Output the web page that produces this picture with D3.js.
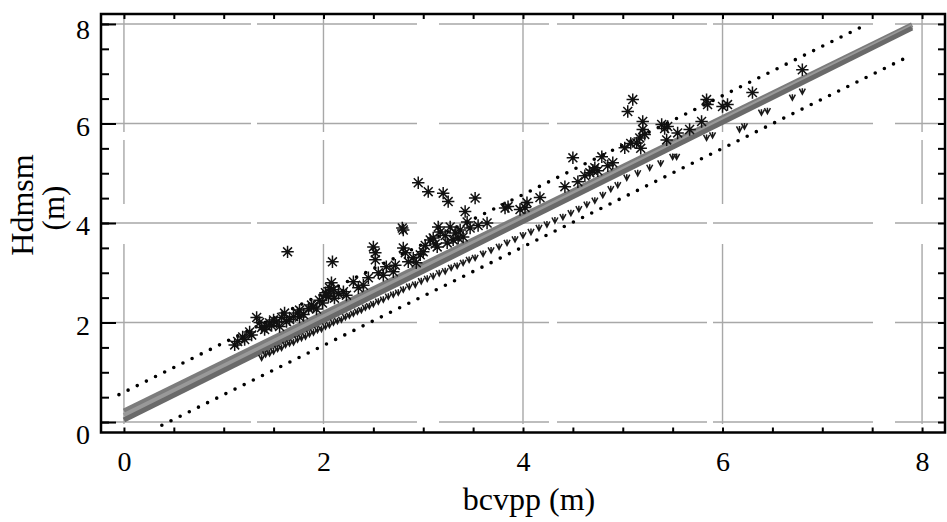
<!DOCTYPE html>
<html>
<head>
<meta charset="utf-8">
<script src="https://cdn.jsdelivr.net/npm/d3@7"></script>
<style>
    html, body { margin: 0; padding: 0; background: #fff; }
    svg text { font-family: "Liberation Serif", "Times New Roman", serif; fill: #000; }
</style>
</head>
<body>
<svg id="chart" width="947" height="522"></svg>
<script>
// Data
const xTicks = [0, 2, 4, 6, 8];
const yTicks = [0, 2, 4, 6, 8];
const minorTicks = d3.range(0, 8.01, 0.5);

// asterisks (observations above the fit)
const starPoints = [
    [1.11, 1.55], [1.14, 1.62], [1.19, 1.71], [1.21, 1.66], [1.26, 1.81], [1.28, 1.75], [1.33, 2.1], [1.36, 2.0],
    [1.38, 1.9], [1.41, 1.86], [1.43, 1.92], [1.46, 1.99], [1.48, 1.94], [1.5, 2.05], [1.53, 2.01], [1.56, 1.92],
    [1.58, 2.1], [1.61, 2.19], [1.63, 2.02], [1.64, 3.42], [1.66, 2.06], [1.7, 2.12], [1.74, 2.19], [1.76, 2.11],
    [1.76, 2.25], [1.8, 2.16], [1.85, 2.28], [1.88, 2.35], [1.9, 2.31], [1.93, 2.27], [1.96, 2.45], [1.99, 2.39],
    [2.02, 2.6], [2.03, 2.55], [2.05, 2.52], [2.06, 2.7], [2.08, 2.8], [2.09, 3.22], [2.1, 2.66], [2.11, 2.49],
    [2.15, 2.58], [2.2, 2.62], [2.23, 2.55], [2.3, 2.82], [2.35, 2.7], [2.4, 2.75], [2.45, 2.9], [2.5, 3.52],
    [2.52, 3.4], [2.52, 3.26], [2.55, 3.0], [2.6, 2.95], [2.63, 3.12], [2.7, 3.02], [2.72, 3.15],
    [2.79, 3.9], [2.8, 3.86], [2.8, 3.5], [2.82, 3.4], [2.85, 3.22], [2.9, 3.3], [2.93, 3.2], [2.95, 4.81],
    [2.97, 3.36], [3.0, 3.42], [3.02, 3.55], [3.05, 4.63], [3.07, 3.66], [3.1, 3.7], [3.12, 3.58], [3.14, 3.52],
    [3.15, 3.92], [3.17, 3.82], [3.2, 4.6], [3.22, 3.75], [3.24, 3.6], [3.25, 4.43], [3.27, 3.92], [3.3, 3.66],
    [3.32, 3.8], [3.35, 3.7], [3.37, 3.86], [3.4, 3.72], [3.42, 4.23], [3.44, 4.02], [3.47, 3.9], [3.52, 4.5],
    [3.55, 3.95], [3.64, 4.0], [3.82, 4.3], [3.85, 4.33], [3.97, 4.27], [4.02, 4.31], [4.04, 4.41], [4.17, 4.51],
    [4.42, 4.73], [4.5, 5.31], [4.55, 4.83], [4.62, 4.95], [4.67, 5.01], [4.7, 5.06], [4.72, 5.11], [4.75, 5.05],
    [4.79, 5.33], [4.85, 5.15], [4.9, 5.21], [5.02, 5.51], [5.05, 6.24], [5.08, 5.6], [5.1, 6.48], [5.14, 5.61],
    [5.17, 5.71], [5.18, 5.5], [5.2, 6.04], [5.2, 5.88], [5.22, 5.78], [5.39, 5.98], [5.42, 5.9], [5.45, 5.94],
    [5.44, 5.67], [5.55, 5.81], [5.67, 5.88], [5.79, 6.04], [5.84, 6.48], [5.85, 6.38], [6.0, 6.34], [6.05, 6.38],
    [6.3, 6.62], [6.8, 7.08]
];

// small marks (observations below the fit)
const markPoints = [
    [1.38, 1.29], [1.42, 1.36], [1.46, 1.38], [1.5, 1.42], [1.54, 1.47], [1.58, 1.49], [1.62, 1.55], [1.66, 1.58],
    [1.7, 1.6], [1.74, 1.66], [1.78, 1.69], [1.82, 1.72], [1.86, 1.77], [1.9, 1.8], [1.94, 1.85], [1.98, 1.87],
    [2.02, 1.92], [2.06, 1.95], [2.1, 2.0], [2.14, 2.03], [2.18, 2.06], [2.22, 2.11], [2.26, 2.14], [2.3, 2.18],
    [2.34, 2.22], [2.38, 2.25], [2.42, 2.3], [2.46, 2.33], [2.5, 2.37], [2.55, 2.42], [2.6, 2.46], [2.65, 2.52],
    [2.7, 2.56], [2.75, 2.6], [2.8, 2.66], [2.86, 2.72], [2.92, 2.76], [2.98, 2.83], [3.04, 2.88], [3.1, 2.93],
    [3.16, 2.99], [3.22, 3.03], [3.28, 3.1], [3.34, 3.14], [3.4, 3.2], [3.46, 3.26], [3.52, 3.3], [3.6, 3.38],
    [3.68, 3.45], [3.76, 3.52], [3.84, 3.6], [3.92, 3.67], [4.0, 3.75], [4.08, 3.82], [4.16, 3.9], [4.24, 3.97],
    [4.32, 4.05], [4.4, 4.12], [4.48, 4.2], [4.56, 4.28], [4.64, 4.37], [4.72, 4.45], [4.8, 4.56], [4.88, 4.68],
    [4.95, 4.76], [5.04, 4.91], [5.15, 5.0], [5.27, 5.11], [5.38, 5.2], [5.5, 5.33], [5.54, 5.33], [5.84, 5.71],
    [5.9, 5.76], [6.17, 5.88], [6.22, 5.94], [6.39, 6.22], [6.45, 6.25], [6.7, 6.52], [6.8, 6.64]
];

// fitted lines (gray band) and prediction limits (dotted)
const fitIntercepts = [0.22, 0.13, 0.04];
const fitSlopes = [0.983, 0.99, 0.997];
const fitRange = [0, 7.9];
const limitIntercepts = [0.6, -0.44];
const limitSlopes = [0.993, 0.99];
const limitRanges = [[-0.05, 7.44], [0.38, 7.88]];

// The svg
const svg = d3.select("#chart");
const plotLeft = 101, plotRight = 945, plotTop = 14, plotBottom = 432.5;
const serif = "'Liberation Serif', 'Times New Roman', serif";

const x = d3.scaleLinear().domain([-0.23, 8.23]).range([plotLeft, plotRight]);
const y = d3.scaleLinear().domain([-0.21, 8.2]).range([plotBottom, plotTop]);

// Grid
const grid = svg.append("g").attr("stroke", "#a8a8a8").attr("stroke-width", 1.4).attr("fill", "none");
grid.selectAll(".vgrid")
    .data(xTicks)
    .enter()
    .append("line")
    .attr("x1", d => x(d)).attr("x2", d => x(d))
    .attr("y1", plotTop).attr("y2", plotBottom)
    .attr("stroke-dasharray", "118,8,64,40,180,10");
grid.selectAll(".hgrid")
    .data(yTicks)
    .enter()
    .append("line")
    .attr("x1", plotLeft).attr("x2", plotRight)
    .attr("y1", d => y(d)).attr("y2", d => y(d))
    .attr("stroke-dasharray", "150,6,160,22,110,8");

// Fit band
const fitLine = d3.line().x(d => x(d[0])).y(d => y(d[1]));
const bandColors = ["#7c7c7c", "#999", "#6a6a6a"];
svg.append("g")
    .selectAll("path")
    .data(fitIntercepts)
    .enter()
    .append("path")
    .attr("d", (b, i) => fitLine(fitRange.map(v => [v, b + fitSlopes[i] * v])))
    .attr("stroke", (b, i) => bandColors[i])
    .attr("stroke-width", 5)
    .attr("fill", "none");

// Prediction limits
svg.append("g")
    .selectAll("path")
    .data(limitIntercepts)
    .enter()
    .append("path")
    .attr("d", (b, i) => fitLine(limitRanges[i].map(v => [v, b + limitSlopes[i] * v])))
    .attr("stroke", "#000")
    .attr("stroke-width", 3.6)
    .attr("stroke-linecap", "round")
    .attr("stroke-dasharray", "0,10.2")
    .attr("fill", "none");

// Small marks
svg.append("g")
    .selectAll("path")
    .data(markPoints)
    .enter()
    .append("path")
    .attr("transform", d => "translate(" + x(d[0]) + "," + y(d[1]) + ")")
    .attr("d", "M-3,-3L0,2.6L3,-3M0,2.6L0,-3.4")
    .attr("stroke", "#1a1a1a")
    .attr("stroke-width", 1.5)
    .attr("fill", "none");

// Asterisks
const r = 6.2, q = r * 0.72;
const starPath = "M0," + (-r) + "L0," + r + "M" + (-r) + ",0L" + r + ",0" +
    "M" + (-q) + "," + (-q) + "L" + q + "," + q + "M" + (-q) + "," + q + "L" + q + "," + (-q);
svg.append("g")
    .selectAll("path")
    .data(starPoints)
    .enter()
    .append("path")
    .attr("transform", d => "translate(" + x(d[0]) + "," + y(d[1]) + ")")
    .attr("d", starPath)
    .attr("stroke", "#111")
    .attr("stroke-width", 1.5)
    .attr("fill", "none");

// Frame with inside ticks on all sides
svg.append("rect")
    .attr("x", plotLeft).attr("y", plotTop)
    .attr("width", plotRight - plotLeft).attr("height", plotBottom - plotTop)
    .attr("fill", "none").attr("stroke", "#000").attr("stroke-width", 2.5);

function tickAxis(g) {
    g.select(".domain").remove();
    g.selectAll(".tick line").attr("stroke", "#000").attr("stroke-width", 2);
}
svg.append("g").attr("transform", "translate(0," + plotBottom + ")")
    .call(d3.axisBottom(x).tickValues(minorTicks).tickSize(-5).tickFormat("")).call(tickAxis);
svg.append("g").attr("transform", "translate(0," + plotTop + ")")
    .call(d3.axisTop(x).tickValues(minorTicks).tickSize(-5).tickFormat("")).call(tickAxis);
svg.append("g").attr("transform", "translate(" + plotLeft + ",0)")
    .call(d3.axisLeft(y).tickValues(minorTicks).tickSize(-8).tickFormat("")).call(tickAxis);
svg.append("g").attr("transform", "translate(" + plotLeft + ",0)")
    .call(d3.axisLeft(y).tickValues(yTicks).tickSize(-15).tickFormat("")).call(tickAxis);
svg.append("g").attr("transform", "translate(" + plotRight + ",0)")
    .call(d3.axisRight(y).tickValues(minorTicks).tickSize(-7).tickFormat("")).call(tickAxis);

// Tick labels
const xLab = svg.append("g").attr("transform", "translate(0," + plotBottom + ")")
    .call(d3.axisBottom(x).tickValues(xTicks).tickSize(0).tickPadding(19).tickFormat(d3.format("d")));
xLab.select(".domain").remove();
xLab.attr("font-family", serif).attr("font-size", 28);
xLab.selectAll("text").attr("fill", "#000");

const yLab = svg.append("g").attr("transform", "translate(" + plotLeft + ",0)")
    .call(d3.axisLeft(y).tickValues(yTicks).tickSize(0).tickPadding(11).tickFormat(d3.format("d")));
yLab.select(".domain").remove();
yLab.attr("font-family", serif).attr("font-size", 28);
yLab.selectAll("text")
    .attr("fill", "#000")
    .attr("y", d => d === 0 ? 12 : (d === 8 ? 6 : 3));

// Axis titles
svg.append("text")
    .attr("x", 529).attr("y", 510)
    .attr("text-anchor", "middle")
    .attr("font-family", serif)
    .attr("font-size", 32)
    .text("bcvpp (m)");
svg.append("text")
    .attr("transform", "translate(33,205) rotate(-90)")
    .attr("text-anchor", "middle")
    .attr("font-family", serif)
    .attr("font-size", 32)
    .text("Hdmsm");
svg.append("text")
    .attr("transform", "translate(64,208) rotate(-90)")
    .attr("text-anchor", "middle")
    .attr("font-family", serif)
    .attr("font-size", 31)
    .text("(m)");
</script>
</body>
</html>
